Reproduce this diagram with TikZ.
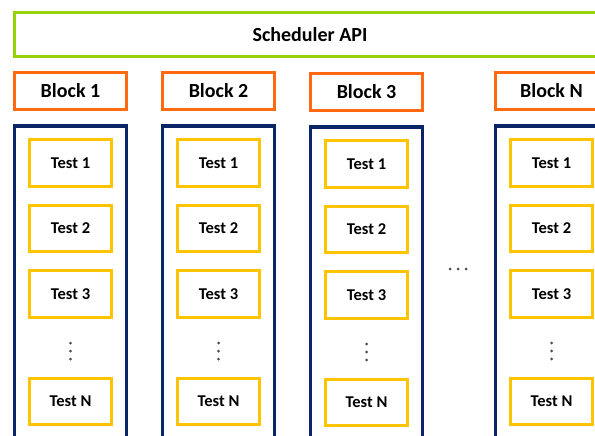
\documentclass[tikz,border=0pt]{standalone}
\usepackage{fontspec}
\setmainfont{Carlito}
\definecolor{apigreen}{HTML}{95D20A}
\definecolor{blockorange}{HTML}{FF6A10}
\definecolor{colnavy}{HTML}{0A2566}
\definecolor{testgold}{HTML}{FFC400}
\tikzset{
  apibox/.style={draw=apigreen, line width=3pt, minimum width=591pt, minimum height=44pt,
    inner sep=0pt, font=\fontsize{20}{24}\selectfont\bfseries},
  blockbox/.style={draw=blockorange, line width=3pt, minimum width=112pt, minimum height=37pt,
    inner sep=0pt, font=\fontsize{20}{24}\selectfont\bfseries},
  colbox/.style={draw=colnavy, line width=3pt, minimum width=112pt, minimum height=330pt, inner sep=0pt},
  testbox/.style={draw=testgold, line width=3pt, fill=white, minimum width=82pt, minimum height=46.5pt,
    inner sep=0pt, font=\fontsize{16.5}{20}\selectfont\bfseries},
  dotmark/.style={circle, fill=black!70, inner sep=0pt, minimum size=3pt}
}
\begin{document}
\begin{tikzpicture}[x=1pt, y=-1pt]
  \useasboundingbox (0,0) rectangle (595,436);
  \clip (0,0) rectangle (595,436);
  \fill[white] (0,0) rectangle (595,436);

  % scheduler bar across the top
  \node[apibox] (api) at (310,34.5) {Scheduler API};

  % one column per block: header, frame, tests and vertical ellipsis
  % \x = left edge, \dy = small vertical offset, \n = label suffix, \k = node id
  \foreach \x/\dy/\n/\k in {13/0/1/1, 161/0/2/2, 309/1/3/3, 494/0/N/n} {
    \node[blockbox] (block\k) at (\x+57.5, 91+\dy) {Block \n};
    \node[colbox] (col\k) at (\x+57.5, 291+\dy) {};
    \node[testbox] (test\k a) at (\x+57.5, 163+\dy) {Test 1};
    \node[testbox] (test\k b) at (\x+57.5, 228.5+\dy) {Test 2};
    \node[testbox] (test\k c) at (\x+57.5, 294+\dy) {Test 3};
    \node[testbox] (test\k n) at (\x+57.5, 401.5+\dy) {Test N};
    \node[dotmark] (vdot\k a) at (\x+57.5, 343+\dy) {};
    \node[dotmark] (vdot\k b) at (\x+57.5, 351+\dy) {};
    \node[dotmark] (vdot\k c) at (\x+57.5, 359+\dy) {};
  }

  % horizontal ellipsis between block 3 and block N
  \node[dotmark] (hdota) at (450,269) {};
  \node[dotmark] (hdotb) at (458,269) {};
  \node[dotmark] (hdotc) at (466,269) {};
\end{tikzpicture}
\end{document}
